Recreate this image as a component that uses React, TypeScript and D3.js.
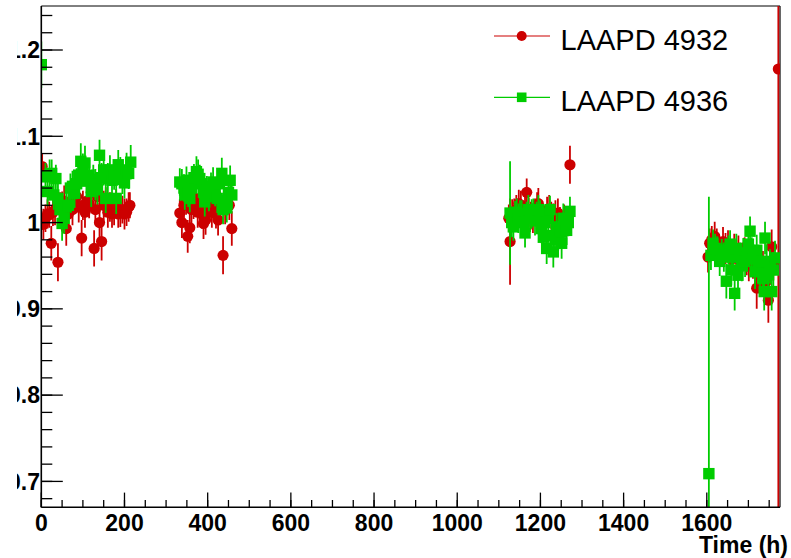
import React from 'react';
import * as d3 from 'd3';

type P = [number, number, number]; // [time (h), ratio, error]

// ---- LAAPD 4932 (red circles) ----
const red4932Run1: P[] = [
  [2, 1.065, 0.015], [5, 0.998, 0.018], [10, 1.005, 0.016], [15, 1.010, 0.017], [19, 1.009, 0.015],
  [24, 0.976, 0.02], [28, 1.012, 0.016], [33, 1.015, 0.018], [40, 0.954, 0.022], [45, 1.018, 0.017],
  [50, 1.020, 0.016], [55, 1.025, 0.018], [60, 0.993, 0.02], [65, 1.010, 0.017], [70, 1.022, 0.016],
  [75, 1.015, 0.018], [80, 1.028, 0.017], [85, 1.030, 0.016], [90, 1.018, 0.018], [97, 0.982, 0.021],
  [100, 1.020, 0.017], [105, 1.012, 0.018], [110, 1.025, 0.016], [115, 1.022, 0.017], [120, 1.035, 0.018],
  [127, 0.970, 0.021], [130, 1.015, 0.017], [135, 1.030, 0.016], [140, 1.000, 0.02], [145, 0.978, 0.022],
  [150, 1.020, 0.017], [155, 1.025, 0.016], [160, 1.012, 0.018], [165, 1.018, 0.017], [170, 1.010, 0.016],
  [175, 1.015, 0.018], [180, 1.022, 0.017], [185, 1.010, 0.016], [190, 1.012, 0.017], [195, 1.015, 0.016],
  [200, 1.010, 0.018], [205, 1.012, 0.016], [210, 1.018, 0.017], [213, 1.020, 0.015],
];
const red4932Run2: P[] = [
  [333, 1.011, 0.016], [338, 1.000, 0.018], [343, 1.020, 0.017], [348, 1.025, 0.016], [352, 0.984, 0.019],
  [357, 0.994, 0.018], [361, 1.015, 0.017], [366, 1.020, 0.016], [371, 1.028, 0.017], [376, 1.012, 0.018],
  [381, 1.018, 0.016], [386, 1.010, 0.017], [390, 0.999, 0.018], [395, 1.003, 0.017], [400, 1.015, 0.016],
  [405, 1.022, 0.017], [410, 1.012, 0.018], [415, 1.018, 0.016], [420, 1.010, 0.017], [425, 1.003, 0.018],
  [430, 1.020, 0.016], [437, 0.962, 0.022], [442, 1.015, 0.017], [447, 1.025, 0.016], [452, 1.020, 0.017],
  [458, 0.993, 0.02],
];
const red4932Run3: P[] = [
  [1124, 1.005, 0.016], [1127, 0.978, 0.05], [1132, 1.010, 0.017], [1137, 1.012, 0.016], [1142, 1.015, 0.017],
  [1148, 1.022, 0.016], [1153, 1.020, 0.017], [1158, 1.010, 0.016], [1163, 1.015, 0.017], [1167, 1.035, 0.016],
  [1172, 1.012, 0.017], [1177, 1.008, 0.016], [1182, 1.005, 0.017], [1187, 1.012, 0.016], [1192, 1.018, 0.017],
  [1195, 1.022, 0.018], [1200, 1.010, 0.017], [1205, 1.005, 0.016], [1211, 1.003, 0.017], [1216, 1.012, 0.018],
  [1221, 1.015, 0.017], [1226, 1.008, 0.016], [1231, 1.005, 0.017], [1236, 1.010, 0.016], [1242, 1.011, 0.017],
  [1247, 1.000, 0.018], [1252, 0.995, 0.017], [1257, 1.005, 0.016], [1262, 1.000, 0.017], [1271, 1.067, 0.022],
];
const red4932Run4: P[] = [
  [1603, 0.960, 0.018], [1607, 0.976, 0.017], [1612, 0.980, 0.016], [1619, 0.984, 0.017], [1624, 0.975, 0.018],
  [1629, 0.970, 0.017], [1634, 0.965, 0.016], [1639, 0.978, 0.017], [1645, 0.970, 0.018], [1651, 0.974, 0.017],
  [1656, 0.965, 0.016], [1661, 0.958, 0.018], [1666, 0.970, 0.017], [1671, 0.962, 0.018], [1676, 0.968, 0.017],
  [1681, 0.955, 0.018], [1686, 0.960, 0.017], [1691, 0.965, 0.018], [1696, 0.958, 0.019], [1701, 0.950, 0.018],
  [1706, 0.962, 0.019], [1711, 0.955, 0.02], [1716, 0.945, 0.021], [1720, 0.924, 0.024], [1725, 0.940, 0.022],
  [1730, 0.950, 0.021], [1735, 0.945, 0.022], [1740, 0.930, 0.024], [1745, 0.935, 0.023], [1748, 0.910, 0.026],
  [1752, 0.950, 0.022], [1756, 0.972, 0.02], [1760, 0.955, 0.022],
];
const red4932Last: P[] = [[1772, 1.178, 0.6]];

// ---- LAAPD 4936 (green squares) ----
const green4936Run1: P[] = [
  [0, 1.183, 0.027], [10, 1.053, 0.016], [15, 1.036, 0.017], [20, 1.055, 0.018], [25, 1.057, 0.016],
  [30, 1.032, 0.017], [35, 1.051, 0.016], [40, 1.028, 0.018], [45, 1.015, 0.017], [50, 0.999, 0.02],
  [55, 1.005, 0.018], [60, 1.018, 0.017], [65, 1.020, 0.016], [70, 1.040, 0.017], [75, 1.042, 0.018],
  [80, 1.034, 0.017], [85, 1.045, 0.018], [90, 1.055, 0.019], [95, 1.071, 0.021], [100, 1.062, 0.018],
  [105, 1.069, 0.02], [110, 1.048, 0.018], [115, 1.055, 0.017], [120, 1.036, 0.018], [125, 1.050, 0.017],
  [130, 1.044, 0.018], [135, 1.038, 0.017], [140, 1.078, 0.018], [145, 1.052, 0.017], [150, 1.061, 0.018],
  [155, 1.028, 0.017], [160, 1.051, 0.018], [165, 1.061, 0.017], [170, 1.049, 0.018], [175, 1.055, 0.017],
  [180, 1.028, 0.018], [185, 1.067, 0.017], [190, 1.058, 0.018], [195, 1.050, 0.017], [200, 1.046, 0.018],
  [205, 1.061, 0.02], [210, 1.057, 0.018], [215, 1.070, 0.02],
];
const green4936Run2: P[] = [
  [333, 1.047, 0.016], [338, 1.045, 0.017], [343, 1.040, 0.016], [345, 1.032, 0.017], [349, 1.049, 0.016],
  [353, 1.035, 0.017], [357, 1.028, 0.016], [362, 1.040, 0.017], [367, 1.052, 0.016], [373, 1.059, 0.018],
  [377, 1.056, 0.017], [381, 1.051, 0.016], [386, 1.045, 0.017], [390, 1.035, 0.016], [393, 1.024, 0.017],
  [398, 1.038, 0.016], [403, 1.030, 0.017], [408, 1.042, 0.016], [413, 1.047, 0.017], [418, 1.035, 0.016],
  [423, 1.028, 0.017], [428, 1.045, 0.016], [434, 1.057, 0.018], [437, 1.015, 0.017], [442, 1.025, 0.016],
  [446, 1.017, 0.017], [450, 1.035, 0.016], [454, 1.049, 0.017], [458, 1.032, 0.016],
];
const green4936Run3: P[] = [
  [1127, 1.011, 0.06], [1131, 1.000, 0.017], [1135, 0.995, 0.016], [1139, 1.008, 0.017], [1143, 1.012, 0.016],
  [1147, 1.005, 0.017], [1151, 1.010, 0.016], [1155, 1.009, 0.017], [1159, 1.000, 0.016], [1163, 0.988, 0.017],
  [1167, 1.008, 0.016], [1171, 1.015, 0.017], [1175, 1.005, 0.016], [1179, 1.010, 0.017], [1183, 1.012, 0.016],
  [1187, 1.002, 0.017], [1191, 1.008, 0.016], [1195, 1.015, 0.017], [1199, 1.010, 0.016], [1203, 0.993, 0.017],
  [1207, 0.983, 0.016], [1211, 1.000, 0.017], [1215, 0.970, 0.018], [1219, 1.005, 0.017], [1223, 1.015, 0.016],
  [1227, 0.985, 0.017], [1231, 0.966, 0.018], [1235, 0.980, 0.017], [1239, 0.995, 0.016], [1243, 0.985, 0.017],
  [1247, 0.990, 0.016], [1251, 0.976, 0.018], [1255, 1.005, 0.017], [1259, 0.995, 0.016], [1263, 0.991, 0.017],
  [1267, 1.000, 0.016], [1271, 1.013, 0.017],
];
const green4936Run4: P[] = [
  [1605, 0.709, 0.321], [1610, 0.962, 0.017], [1615, 0.976, 0.016], [1620, 0.970, 0.017], [1625, 0.968, 0.016],
  [1631, 0.955, 0.017], [1636, 0.965, 0.016], [1641, 0.960, 0.017], [1647, 0.932, 0.02], [1652, 0.968, 0.017],
  [1656, 0.975, 0.016], [1659, 0.945, 0.018], [1663, 0.960, 0.017], [1667, 0.918, 0.02], [1671, 0.970, 0.017],
  [1675, 0.939, 0.019], [1680, 0.960, 0.017], [1684, 0.950, 0.018], [1688, 0.965, 0.017], [1692, 0.955, 0.018],
  [1697, 0.960, 0.017], [1700, 0.975, 0.018], [1704, 0.990, 0.017], [1708, 0.965, 0.018], [1712, 0.958, 0.017],
  [1716, 0.943, 0.02], [1720, 0.968, 0.018], [1724, 0.950, 0.019], [1728, 0.945, 0.02], [1731, 0.955, 0.019],
  [1735, 0.935, 0.021], [1738, 0.920, 0.022], [1740, 0.982, 0.019], [1744, 0.955, 0.02], [1748, 0.940, 0.021],
  [1752, 0.949, 0.02], [1756, 0.920, 0.022], [1760, 0.945, 0.021], [1764, 0.959, 0.02],
];

const redSeries: P[] = [...red4932Run1, ...red4932Run2, ...red4932Run3, ...red4932Run4, ...red4932Last];
const greenSeries: P[] = [...green4936Run1, ...green4936Run2, ...green4936Run3, ...green4936Run4];

const seriesNames = ['LAAPD 4932', 'LAAPD 4936'];
const xTickValues = [0, 200, 400, 600, 800, 1000, 1200, 1400, 1600];
const xTickLabels = ['0', '200', '400', '600', '800', '1000', '1200', '1400', '1600'];
const yTickValues = [0.7, 0.8, 0.9, 1.0, 1.1, 1.2];
const yTickLabels = ['0.7', '0.8', '0.9', '1', '1.1', '1.2'];
const xTitle = 'Time (h)';

const RED = '#cc0000';
const GREEN = '#00cc00';
const FONT = "'Liberation Sans', Arial, Helvetica, sans-serif";

export default function App() {
  const W = 791, H = 558;
  const L = 41.3, R = 780, T = 6, B = 507.3;
  const x = d3.scaleLinear().domain([0, 1776]).range([L, R]);
  const y = d3.scaleLinear().domain([0.67, 1.251]).range([B, T]);

  const xMinor = d3.range(0, 1776, 50);
  const yMinor = d3.range(34, 63).map((i) => i * 0.02);

  const errLines = (data: P[], color: string) =>
    data.map(([t, v, e], i) => (
      <line key={i} x1={x(t)} x2={x(t)} y1={y(v - e)} y2={y(v + e)} stroke={color} strokeWidth={1.8} />
    ));

  return (
    <svg width={W} height={H} style={{ position: 'absolute', left: 0, top: 0, background: '#fff' }}>
      <defs>
        <clipPath id="plotClip">
          <rect x={L} y={T} width={R - L} height={B - T} />
        </clipPath>
        <clipPath id="yLabClip">
          <rect x={17} y={0} width={L - 17} height={H} />
        </clipPath>
      </defs>
      <rect x={0} y={0} width={W} height={H} fill="#fff" />

      {/* frame top and right */}
      <line x1={L} x2={R} y1={T} y2={T} stroke="#000" strokeWidth={1} />
      <line x1={R} x2={R} y1={T} y2={B} stroke="#000" strokeWidth={1.2} />

      {/* data */}
      <g clipPath="url(#plotClip)">
        {errLines(redSeries, RED)}
        {redSeries.map(([t, v], i) => (
          <circle key={'r' + i} cx={x(t)} cy={y(v)} r={5.6} fill={RED} />
        ))}
        {errLines(greenSeries, GREEN)}
        {greenSeries.map(([t, v], i) => (
          <rect key={'g' + i} x={x(t) - 5.7} y={y(v) - 5.7} width={11.4} height={11.4} fill={GREEN} />
        ))}
      </g>

      {/* y axis */}
      <line x1={L} x2={L} y1={T} y2={B} stroke="#000" strokeWidth={1.6} />
      {yMinor.map((v, i) => (
        <line key={'ym' + i} x1={L} x2={L + 11} y1={y(v)} y2={y(v)} stroke="#000" strokeWidth={1.3} />
      ))}
      {yTickValues.map((v, i) => (
        <line key={'yM' + i} x1={L} x2={L + 21.5} y1={y(v)} y2={y(v)} stroke="#000" strokeWidth={1.3} />
      ))}
      <g clipPath="url(#yLabClip)">
        {yTickValues.map((v, i) => (
          <text key={'yl' + i} x={40} y={y(v)} dy="0.36em" textAnchor="end" fontFamily={FONT} fontWeight="bold" fontSize={23}>
            {yTickLabels[i]}
          </text>
        ))}
      </g>

      {/* x axis */}
      <line x1={L} x2={R} y1={B} y2={B} stroke="#000" strokeWidth={1.6} />
      {xMinor.map((t, i) => (
        <line key={'xm' + i} x1={x(t)} x2={x(t)} y1={B} y2={B - 7.3} stroke="#000" strokeWidth={1.3} />
      ))}
      {xTickValues.map((t, i) => (
        <line key={'xM' + i} x1={x(t)} x2={x(t)} y1={B} y2={B - 14.7} stroke="#000" strokeWidth={1.3} />
      ))}
      {xTickValues.map((t, i) => (
        <text key={'xl' + i} x={x(t)} y={531} textAnchor="middle" fontFamily={FONT} fontWeight="bold" fontSize={23}>
          {xTickLabels[i]}
        </text>
      ))}
      <text x={788} y={553} textAnchor="end" fontFamily={FONT} fontWeight="bold" fontSize={23}>
        {xTitle}
      </text>

      {/* legend */}
      <g>
        <line x1={494} x2={550} y1={36} y2={36} stroke={RED} strokeWidth={1.2} />
        <circle cx={521.7} cy={36} r={5} fill={RED} />
        <text x={560.5} y={50} fontFamily={FONT} fontSize={29}>{seriesNames[0]}</text>
        <line x1={494} x2={550} y1={97.3} y2={97.3} stroke={GREEN} strokeWidth={1.2} />
        <rect x={516.9} y={92.5} width={9.6} height={9.6} fill={GREEN} />
        <text x={560.5} y={111} fontFamily={FONT} fontSize={29}>{seriesNames[1]}</text>
      </g>
    </svg>
  );
}
